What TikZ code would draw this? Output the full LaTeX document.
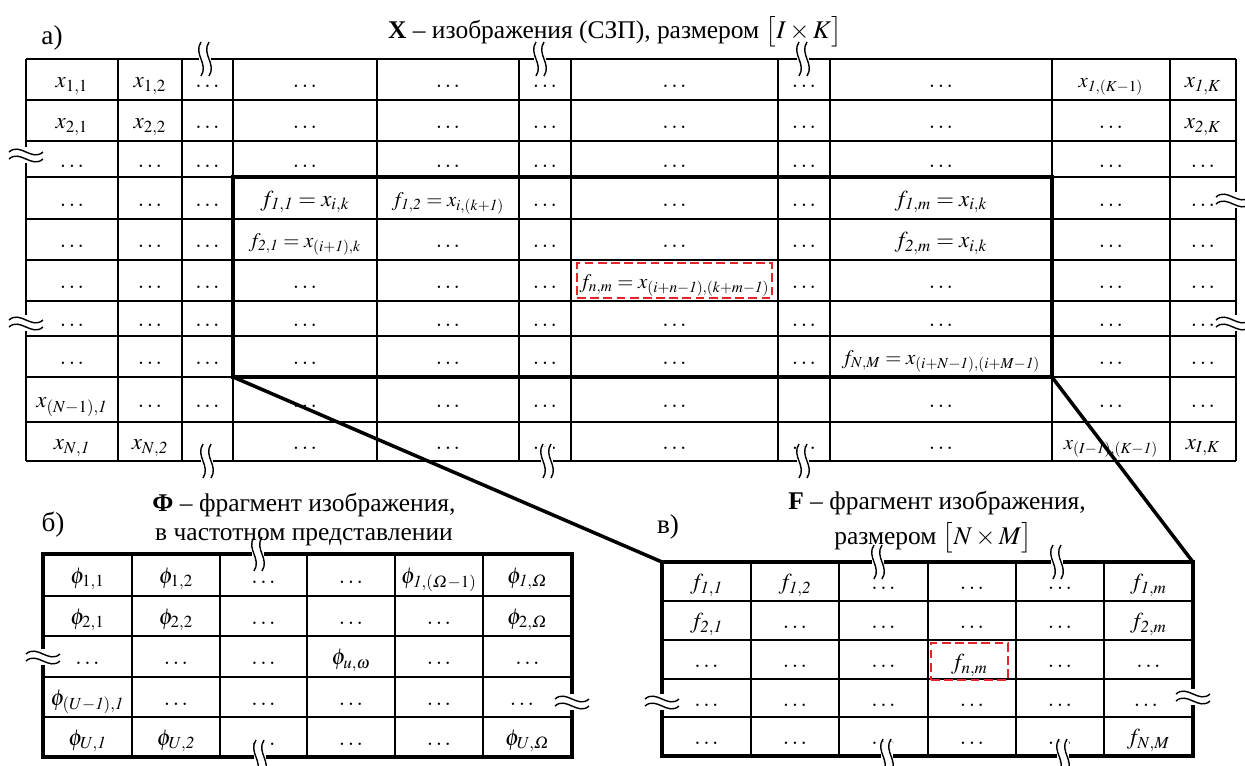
\documentclass[tikz,border=0pt]{standalone}
\usepackage{amsmath}
\usepackage{mathptmx}
\usepackage{fontspec}
\setmainfont{Liberation Serif}
\usepackage{tikz}
\usepackage{xcolor}
\usetikzlibrary{positioning}
\definecolor{Frag_Red}{HTML}{E3242B}

\tikzset{
  cell/.style={inner sep=0pt, outer sep=0pt, text height=2ex, text depth=0pt, font=\fontsize{13}{15}\selectfont},
  small/.style={font=\fontsize{11.8}{14}\selectfont},
  grid/.style={line width=0.8pt},
  frame/.style={draw, line width=2pt, inner sep=0pt, outer sep=0pt},
  window/.style={draw, line width=2.4pt, inner sep=0pt, outer sep=0pt},
  zoomline/.style={line width=2pt},
  fragbox/.style={draw=Frag_Red, dash pattern=on 5pt off 2.5pt, line width=1.1pt},
  brk/.style={line width=0.8pt},
  title/.style={inner sep=0pt, font=\fontsize{14.5}{17}\selectfont},
  label/.style={inner sep=0pt, font=\fontsize{15.5}{18}\selectfont}
}

% break marks: \vbrk on a horizontal border, \hbrk on a vertical border
\newcommand{\vbrk}[2]{%
  \fill[white] ({#1-6},{#2-14}) rectangle ({#1+6},{#2+5});
  \draw[brk] ({#1-4},{#2-17}) .. controls ({#1-12},{#2-5}) and ({#1+4},{#2+5}) .. ({#1-4},{#2+17});
  \draw[brk] ({#1+4},{#2-17}) .. controls ({#1-4},{#2-5}) and ({#1+12},{#2+5}) .. ({#1+4},{#2+17});
}
\newcommand{\hbrk}[2]{%
  \fill[white] ({#1-4},{#2-8}) rectangle ({#1+4},{#2+8});
  \draw[brk] ({#1-17},{#2-3}) .. controls ({#1-6},{#2-13}) and ({#1+6},{#2+7}) .. ({#1+17},{#2-3});
  \draw[brk] ({#1-17},{#2+4}) .. controls ({#1-6},{#2-6}) and ({#1+6},{#2+14}) .. ({#1+17},{#2+4});
}

\begin{document}
\begin{tikzpicture}[x=0.02cm, y=-0.02cm]
    \useasboundingbox (0,0) rectangle (1245,765);

    % Titles
    \node[label] (x-lbl) at (52,38) {а)};
    \node[title] (x-title) at (615,32) {\textbf{X} – изображения (СЗП), размером $\bigl[I\times K\bigr]$};
    \node[label] (phi-lbl) at (53,525) {б)};
    \node[title] (phi-title1) at (304,505) {\textbf{Φ} – фрагмент изображения,};
    \node[title] (phi-title2) at (304,537) {в частотном представлении};
    \node[label] (f-lbl) at (668,527) {в)};
    \node[title] (f-title1) at (937,503) {\textbf{F} – фрагмент изображения,};
    \node[title] (f-title2) at (933,538) {размером $\bigl[N\times M\bigr]$};

    % a) grid
    \foreach \x in {26,118,182,233,377,519,571,778,830,1052,1170,1236}
        \draw[grid] (\x,59) -- (\x,461);
    \foreach \y in {59,100,141,177,219,260,301,336,377,422,461}
        \draw[grid] (26,\y) -- (1236,\y);
    \node[window, minimum width=16.38cm, minimum height=4cm] (sel) at (642.5,277) {};

    % b) grid
    \foreach \x in {132,220,307,395,483}
        \draw[grid] (\x,554) -- (\x,757);
    \foreach \y in {596,636,677,717}
        \draw[grid] (43,\y) -- (572,\y);
    \node[frame, minimum width=10.58cm, minimum height=4.06cm] (phibox) at (307.5,655.5) {};

    % c) grid
    \foreach \x in {751,839,928,1016,1104}
        \draw[grid] (\x,562) -- (\x,756);
    \foreach \y in {601,640,679,717}
        \draw[grid] (662,\y) -- (1193,\y);
    \node[frame, minimum width=10.62cm, minimum height=3.88cm] (fbox) at (927.5,659) {};

    \begin{scope}[every node/.style=cell]
    % a) Row 1
    \node (a-1-1) at (72,79.5) {$x_{1,1}$}; \node (a-1-2) at (150,79.5) {$x_{1,2}$}; \node (a-1-3) at (207.5,79.5) {$\ldots$};
    \node (a-1-4) at (305,79.5) {$\ldots$}; \node (a-1-5) at (448,79.5) {$\ldots$}; \node (a-1-6) at (545,79.5) {$\ldots$};
    \node (a-1-7) at (674.5,79.5) {$\ldots$}; \node (a-1-8) at (804,79.5) {$\ldots$}; \node (a-1-9) at (941,79.5) {$\ldots$};
    \node[small] (a-1-10) at (1111,79.5) {$x_{\mathit{1},(K-1)}$}; \node (a-1-11) at (1203,79.5) {$x_{\mathit{1},K}$};
    % a) Row 2
    \node (a-2-1) at (72,120.5) {$x_{2,1}$}; \node (a-2-2) at (150,120.5) {$x_{2,2}$}; \node (a-2-3) at (207.5,120.5) {$\ldots$};
    \node (a-2-4) at (305,120.5) {$\ldots$}; \node (a-2-5) at (448,120.5) {$\ldots$}; \node (a-2-6) at (545,120.5) {$\ldots$};
    \node (a-2-7) at (674.5,120.5) {$\ldots$}; \node (a-2-8) at (804,120.5) {$\ldots$}; \node (a-2-9) at (941,120.5) {$\ldots$};
    \node (a-2-10) at (1111,120.5) {$\ldots$}; \node (a-2-11) at (1203,120.5) {$x_{\mathit{2},K}$};
    % a) Row 3
    \node (a-3-1) at (72,159) {$\ldots$}; \node (a-3-2) at (150,159) {$\ldots$}; \node (a-3-3) at (207.5,159) {$\ldots$};
    \node (a-3-4) at (305,159) {$\ldots$}; \node (a-3-5) at (448,159) {$\ldots$}; \node (a-3-6) at (545,159) {$\ldots$};
    \node (a-3-7) at (674.5,159) {$\ldots$}; \node (a-3-8) at (804,159) {$\ldots$}; \node (a-3-9) at (941,159) {$\ldots$};
    \node (a-3-10) at (1111,159) {$\ldots$}; \node (a-3-11) at (1203,159) {$\ldots$};
    % a) Row 4
    \node (a-4-1) at (72,198) {$\ldots$}; \node (a-4-2) at (150,198) {$\ldots$}; \node (a-4-3) at (207.5,198) {$\ldots$};
    \node (a-4-4) at (305,198) {$f_{\mathit{1},\mathit{1}}=x_{i,k}$}; \node[small] (a-4-5) at (448,198) {$f_{\mathit{1},\mathit{2}}=x_{i,(k+\mathit{1})}$};
    \node (a-4-6) at (545,198) {$\ldots$}; \node (a-4-7) at (674.5,198) {$\ldots$}; \node (a-4-8) at (804,198) {$\ldots$};
    \node (a-4-9) at (941,198) {$f_{\mathit{1},m}=x_{i,k}$}; \node (a-4-10) at (1111,198) {$\ldots$}; \node (a-4-11) at (1203,198) {$\ldots$};
    % a) Row 5
    \node (a-5-1) at (72,239.5) {$\ldots$}; \node (a-5-2) at (150,239.5) {$\ldots$}; \node (a-5-3) at (207.5,239.5) {$\ldots$};
    \node[small] (a-5-4) at (305,239.5) {$f_{\mathit{2},\mathit{1}}=x_{(i+\mathit{1}),k}$}; \node (a-5-5) at (448,239.5) {$\ldots$};
    \node (a-5-6) at (545,239.5) {$\ldots$}; \node (a-5-7) at (674.5,239.5) {$\ldots$}; \node (a-5-8) at (804,239.5) {$\ldots$};
    \node (a-5-9) at (941,239.5) {$f_{\mathit{2},m}=x_{i,k}$}; \node (a-5-10) at (1111,239.5) {$\ldots$}; \node (a-5-11) at (1203,239.5) {$\ldots$};
    % a) Row 6
    \node (a-6-1) at (72,280.5) {$\ldots$}; \node (a-6-2) at (150,280.5) {$\ldots$}; \node (a-6-3) at (207.5,280.5) {$\ldots$};
    \node (a-6-4) at (305,280.5) {$\ldots$}; \node (a-6-5) at (448,280.5) {$\ldots$}; \node (a-6-6) at (545,280.5) {$\ldots$};
    \node[small, fragbox, minimum width=3.9cm, minimum height=0.7cm] (a-6-7) at (674.5,280.5) {$f_{n,m}=x_{(i+n-\mathit{1}),(k+m-\mathit{1})}$};
    \node (a-6-8) at (804,280.5) {$\ldots$}; \node (a-6-9) at (941,280.5) {$\ldots$};
    \node (a-6-10) at (1111,280.5) {$\ldots$}; \node (a-6-11) at (1203,280.5) {$\ldots$};
    % a) Row 7
    \node (a-7-1) at (72,318.5) {$\ldots$}; \node (a-7-2) at (150,318.5) {$\ldots$}; \node (a-7-3) at (207.5,318.5) {$\ldots$};
    \node (a-7-4) at (305,318.5) {$\ldots$}; \node (a-7-5) at (448,318.5) {$\ldots$}; \node (a-7-6) at (545,318.5) {$\ldots$};
    \node (a-7-7) at (674.5,318.5) {$\ldots$}; \node (a-7-8) at (804,318.5) {$\ldots$}; \node (a-7-9) at (941,318.5) {$\ldots$};
    \node (a-7-10) at (1111,318.5) {$\ldots$}; \node (a-7-11) at (1203,318.5) {$\ldots$};
    % a) Row 8
    \node (a-8-1) at (72,356.5) {$\ldots$}; \node (a-8-2) at (150,356.5) {$\ldots$}; \node (a-8-3) at (207.5,356.5) {$\ldots$};
    \node (a-8-4) at (305,356.5) {$\ldots$}; \node (a-8-5) at (448,356.5) {$\ldots$}; \node (a-8-6) at (545,356.5) {$\ldots$};
    \node (a-8-7) at (674.5,356.5) {$\ldots$}; \node (a-8-8) at (804,356.5) {$\ldots$};
    \node[small] (a-8-9) at (941,356.5) {$f_{N,M}=x_{(i+N-\mathit{1}),(i+M-\mathit{1})}$};
    \node (a-8-10) at (1111,356.5) {$\ldots$}; \node (a-8-11) at (1203,356.5) {$\ldots$};
    % a) Row 9
    \node (a-9-1) at (72,399.5) {$x_{(N-1),\mathit{1}}$}; \node (a-9-2) at (150,399.5) {$\ldots$}; \node (a-9-3) at (207.5,399.5) {$\ldots$};
    \node (a-9-4) at (305,399.5) {$\ldots$}; \node (a-9-5) at (448,399.5) {$\ldots$}; \node (a-9-6) at (545,399.5) {$\ldots$};
    \node (a-9-7) at (674.5,399.5) {$\ldots$}; \node (a-9-9) at (941,399.5) {$\ldots$};
    \node (a-9-10) at (1111,399.5) {$\ldots$}; \node (a-9-11) at (1203,399.5) {$\ldots$};
    % a) Row 10
    \node (a-10-1) at (72,441.5) {$x_{N,\mathit{1}}$}; \node (a-10-2) at (150,441.5) {$x_{N,\mathit{2}}$};
    \node (a-10-4) at (305,441.5) {$\ldots$}; \node (a-10-5) at (448,441.5) {$\ldots$}; \node (a-10-6) at (545,441.5) {$\ldots$};
    \node (a-10-7) at (674.5,441.5) {$\ldots$}; \node (a-10-8) at (804,441.5) {$\ldots$}; \node (a-10-9) at (941,441.5) {$\ldots$};
    \node[small] (a-10-10) at (1111,441.5) {$x_{(I-\mathit{1}),(K-\mathit{1})}$}; \node (a-10-11) at (1203,441.5) {$x_{I,K}$};

    % b) Row 1
    \node (b-1-1) at (87.5,575) {$\phi_{1,1}$}; \node (b-1-2) at (176,575) {$\phi_{1,2}$}; \node (b-1-3) at (263.5,575) {$\ldots$};
    \node (b-1-4) at (351,575) {$\ldots$}; \node (b-1-5) at (439,575) {$\phi_{\mathit{1},(\varOmega-1)}$}; \node (b-1-6) at (527.5,575) {$\phi_{\mathit{1},\varOmega}$};
    % b) Row 2
    \node (b-2-1) at (87.5,616) {$\phi_{2,1}$}; \node (b-2-2) at (176,616) {$\phi_{2,2}$}; \node (b-2-3) at (263.5,616) {$\ldots$};
    \node (b-2-4) at (351,616) {$\ldots$}; \node (b-2-5) at (439,616) {$\ldots$}; \node (b-2-6) at (527.5,616) {$\phi_{2,\varOmega}$};
    % b) Row 3
    \node (b-3-1) at (87.5,656.5) {$\ldots$}; \node (b-3-2) at (176,656.5) {$\ldots$}; \node (b-3-3) at (263.5,656.5) {$\ldots$};
    \node (b-3-4) at (351,656.5) {$\phi_{u,\omega}$}; \node (b-3-5) at (439,656.5) {$\ldots$}; \node (b-3-6) at (527.5,656.5) {$\ldots$};
    % b) Row 4
    \node (b-4-1) at (87.5,697) {$\phi_{(U-\mathit{1}),\mathit{1}}$}; \node (b-4-2) at (176,697) {$\ldots$}; \node (b-4-3) at (263.5,697) {$\ldots$};
    \node (b-4-4) at (351,697) {$\ldots$}; \node (b-4-5) at (439,697) {$\ldots$}; \node (b-4-6) at (522,697) {$\ldots$};
    % b) Row 5
    \node (b-5-1) at (87.5,737) {$\phi_{U,\mathit{1}}$}; \node (b-5-2) at (176,737) {$\phi_{U,\mathit{2}}$}; \node (b-5-3) at (263.5,737) {$\ldots$};
    \node (b-5-4) at (351,737) {$\ldots$}; \node (b-5-5) at (439,737) {$\ldots$}; \node (b-5-6) at (527.5,737) {$\phi_{U,\varOmega}$};

    % c) Row 1
    \node (c-1-1) at (706.5,581.5) {$f_{\mathit{1},\mathit{1}}$}; \node (c-1-2) at (795,581.5) {$f_{\mathit{1},\mathit{2}}$}; \node (c-1-3) at (883.5,581.5) {$\ldots$};
    \node (c-1-4) at (972,581.5) {$\ldots$}; \node (c-1-5) at (1060,581.5) {$\ldots$}; \node (c-1-6) at (1148.5,581.5) {$f_{\mathit{1},m}$};
    % c) Row 2
    \node (c-2-1) at (706.5,620.5) {$f_{\mathit{2},\mathit{1}}$}; \node (c-2-2) at (795,620.5) {$\ldots$}; \node (c-2-3) at (883.5,620.5) {$\ldots$};
    \node (c-2-4) at (972,620.5) {$\ldots$}; \node (c-2-5) at (1060,620.5) {$\ldots$}; \node (c-2-6) at (1148.5,620.5) {$f_{\mathit{2},m}$};
    % c) Row 3
    \node (c-3-1) at (706.5,659.5) {$\ldots$}; \node (c-3-2) at (795,659.5) {$\ldots$}; \node (c-3-3) at (883.5,659.5) {$\ldots$};
    \node[fragbox, line width=1.6pt, minimum width=1.54cm, minimum height=0.74cm] (c-3-4) at (969.5,661.5) {$f_{n,m}$};
    \node (c-3-5) at (1060,659.5) {$\ldots$}; \node (c-3-6) at (1148.5,659.5) {$\ldots$};
    % c) Row 4
    \node (c-4-1) at (706.5,698) {$\ldots$}; \node (c-4-2) at (795,698) {$\ldots$}; \node (c-4-3) at (883.5,698) {$\ldots$};
    \node (c-4-4) at (972,698) {$\ldots$}; \node (c-4-5) at (1060,698) {$\ldots$}; \node (c-4-6) at (1146,698) {$\ldots$};
    % c) Row 5
    \node (c-5-1) at (706.5,736.5) {$\ldots$}; \node (c-5-2) at (795,736.5) {$\ldots$}; \node (c-5-3) at (883.5,736.5) {$\ldots$};
    \node (c-5-4) at (972,736.5) {$\ldots$}; \node (c-5-5) at (1060,736.5) {$\ldots$}; \node (c-5-6) at (1148.5,736.5) {$f_{N,M}$};
    \end{scope}

    % break marks
    \vbrk{205}{59} \vbrk{540}{59} \vbrk{803}{59}
    \vbrk{207}{461} \vbrk{547}{461} \vbrk{803}{461}
    \hbrk{26}{155} \hbrk{26}{323} \hbrk{1233}{200} \hbrk{1233}{323}
    \vbrk{258}{554} \vbrk{260}{757} \hbrk{43}{657} \hbrk{572}{702}
    \vbrk{878}{562} \vbrk{1057}{562} \vbrk{887}{756} \vbrk{1063}{756}
    \hbrk{662}{702} \hbrk{1193}{697}

    % zoom lines
    \draw[zoomline] (sel.south west) -- (fbox.north west);
    \draw[zoomline] (sel.south east) -- (fbox.north east);
\end{tikzpicture}
\end{document}
